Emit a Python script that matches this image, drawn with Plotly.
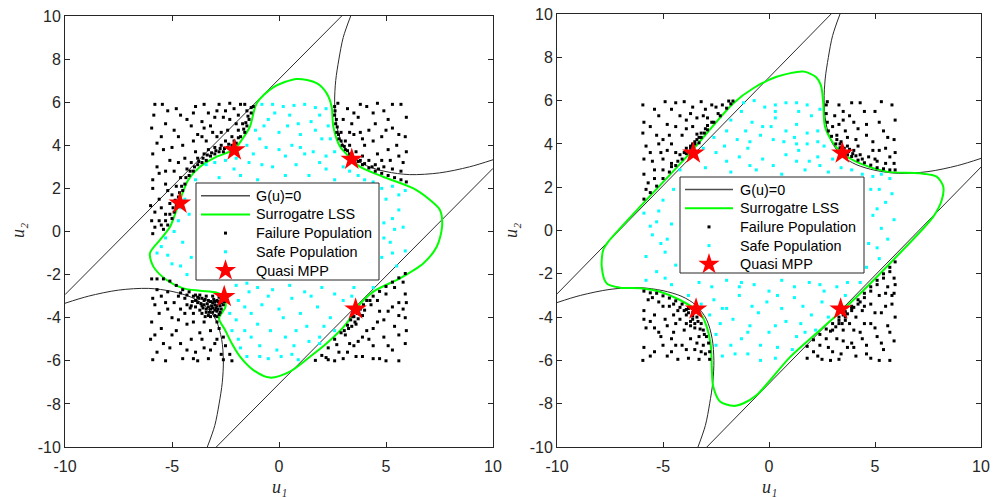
import plotly.graph_objects as go

# ---------------- data ----------------
# G(u)=0 (same limit state in both panels)
g_line_up_u = [-10.0, 2.93]
g_line_up_v = [-2.93, 10.0]
g_line_dn_u = [-2.93, 10.0]
g_line_dn_v = [-10.0, 2.93]
g_branch_ur_u = [3.35, 3.0, 2.8, 2.65, 2.6, 2.68, 2.95, 3.45, 4.1, 5.0, 6.1, 7.5, 8.9, 10.0]
g_branch_ur_v = [10.0, 9.0, 8.0, 7.0, 6.0, 5.0, 4.1, 3.45, 3.05, 2.78, 2.64, 2.72, 3.0, 3.33]
g_branch_ll_u = [-3.35, -3.0, -2.8, -2.65, -2.6, -2.68, -2.95, -3.45, -4.1, -5.0, -6.1, -7.5, -8.9, -10.0]
g_branch_ll_v = [-10.0, -9.0, -8.0, -7.0, -6.0, -5.0, -4.1, -3.45, -3.05, -2.78, -2.64, -2.72, -3.0, -3.33]

# Surrogate LSS, left panel
lss_left_u = [0.83, 1.76, 2.23, 2.46, 2.54, 2.85, 3.40, 3.79, 4.87, 6.28, 7.06, 7.52, 7.62, 7.37, 6.74, 5.65,
              4.41, 3.58, 3.16, 2.23, 1.45, 0.51, -0.42, -1.20, -1.82, -2.21, -2.52, -2.80, -2.50, -2.56,
              -2.91, -3.69, -4.47, -5.25, -5.87, -6.03, -5.56, -5.09, -4.63, -4.24, -3.69, -2.91, -2.10,
              -1.74, -1.36, -1.04, -0.27, 0.83]
lss_left_v = [7.08, 6.88, 6.41, 5.79, 4.86, 3.94, 3.35, 3.00, 2.54, 2.00, 1.46, 1.00, 0.22, -0.71, -1.48, -2.17,
              -2.79, -3.60, -4.26, -5.19, -5.81, -6.50, -6.78, -6.43, -5.81, -5.19, -4.57, -4.03, -3.50, -3.02,
              -2.84, -2.75, -2.64, -2.25, -1.63, -1.01, -0.39, 0.22, 1.46, 2.39, 3.00, 3.47, 3.80,
              4.25, 4.86, 5.95, 6.69, 7.08]
# Surrogate LSS, right panel
lss_right_u = [1.62, 2.20, 2.45, 2.56, 2.64, 3.03, 3.46, 4.29, 5.55, 7.12, 7.91, 8.22, 8.15, 7.75, 5.86, 3.98,
               2.41, 0.99, -0.58, -1.20, -1.68, -2.31, -2.63, -2.70, -2.74, -2.94, -3.25, -4.20, -5.14, -6.08,
               -7.03, -7.66, -7.89, -7.82, -7.58, -6.08, -3.88, -1.68, -0.74, 0.36, 1.62]
lss_right_v = [7.34, 7.10, 6.70, 5.88, 4.80, 4.03, 3.57, 3.10, 2.72, 2.64, 2.49, 2.02, 1.41, 0.64, -1.36, -3.21,
               -4.60, -5.85, -7.60, -7.98, -8.10, -7.90, -7.21, -6.29, -5.37, -4.44, -3.82, -3.21, -2.83, -2.67,
               -2.64, -2.44, -1.67, -0.90, -0.52, 1.10, 3.41, 5.88, 6.57, 7.10, 7.34]

# Quasi MPPs
mpp_left_u = [-2.09, 3.40, -4.63, -2.56, 3.58]
mpp_left_v = [3.78, 3.35, 1.31, -3.02, -3.60]
mpp_right_u = [-3.57, 3.46, -3.44, 3.38]
mpp_right_v = [3.57, 3.57, -3.63, -3.63]

# Failure population, left panel
fail_left = [
    (-1.2, 5.8), (-1.3, 5.5), (-1.4, 5.2), (-1.5, 4.9), (-1.6, 4.6), (-1.8, 4.4), (-2.0, 4.1), (-2.2, 4.0),
    (-2.4, 3.9), (-2.6, 3.7), (-2.8, 3.7), (-3.0, 3.6), (-3.2, 3.5), (-3.4, 3.3), (-3.6, 3.2), (-3.8, 3.1),
    (-4.0, 2.8), (-4.2, 2.6), (-4.4, 2.2), (-4.5, 1.9), (-4.7, 1.6), (-4.8, 1.2), (-4.9, 0.9), (-5.0, 0.6),
    (-5.2, 0.3), (-5.4, 0.1), (-1.5, 5.6), (-1.7, 5.0), (-1.9, 4.7), (-2.2, 4.4), (-2.5, 4.2), (-2.7, 4.0),
    (-3.0, 3.9), (-3.3, 3.8), (-3.5, 3.6), (-3.8, 3.4), (-4.1, 3.2), (-4.3, 2.9), (-4.6, 2.5), (-4.8, 2.1),
    (-5.0, 1.7), (-5.1, 1.3), (-5.3, 0.8), (-5.6, 0.5), (-5.8, 0.2), (-5.9, -0.1), (-2.0, 5.0), (-2.4, 4.7),
    (-2.9, 4.4), (-3.4, 4.2), (-3.9, 3.7), (-4.4, 3.4), (-4.9, 2.8), (-5.3, 2.2), (-5.6, 1.5), (-5.8, 0.9),
    (-2.6, 5.3), (-3.2, 4.9), (-3.8, 4.5), (-4.5, 4.0), (-5.1, 3.3), (-5.6, 2.7), (-5.9, 2.0), (-1.6, 5.9),
    (-2.1, 5.7), (-2.8, 5.9), (-3.3, 5.5), (-3.9, 5.8), (-4.3, 5.2), (-4.8, 5.7), (-5.3, 5.0), (-5.8, 5.9),
    (-5.5, 4.4), (-5.9, 3.6), (-4.9, 4.7), (-3.6, 5.1), (-2.5, 5.6), (-5.2, 5.6), (-5.7, 3.0), (-4.1, 4.9),
    (-3.0, 5.3), (-5.95, 4.8), (-6.0, 1.2),
    (-1.3, 5.75), (-1.45, 5.35), (-1.55, 5.05), (-1.65, 4.75), (-1.9, 4.35), (-2.1, 4.2), (-2.35, 4.05),
    (-2.55, 3.85), (-2.75, 3.85), (-2.95, 3.75), (-3.15, 3.65), (-3.35, 3.55), (-3.55, 3.4), (-3.75, 3.25),
    (-3.95, 3.0), (-4.15, 2.8), (-4.35, 2.5), (-4.55, 2.1), (-4.65, 1.8), (-4.85, 1.45), (-4.95, 1.1),
    (-5.1, 0.8), (-5.3, 0.5), (-5.5, 0.3),
    (-1.9, 5.4), (-2.3, 5.2), (-2.7, 4.6), (-3.1, 4.6), (-3.5, 4.8), (-4.0, 4.2), (-4.7, 4.4), (-5.0, 3.9),
    (-5.4, 3.8), (-5.7, 4.1), (-5.85, 5.4), (-5.45, 5.9), (-4.6, 5.4), (-4.0, 5.5), (-3.5, 5.9),
    (-2.3, 5.95), (-2.9, 5.6), (-1.8, 5.9), (-4.7, 3.2), (-5.3, 2.8), (-5.9, 2.4), (-5.5, 1.1),
    (-5.95, 0.5), (-5.2, 1.9), (-3.6, 4.4),
    (2.6, 5.8), (2.6, 5.4), (2.65, 5.0), (2.7, 4.6), (2.8, 4.3), (2.95, 4.0), (3.1, 3.8), (3.3, 3.6),
    (3.5, 3.4), (3.7, 3.25), (3.9, 3.1), (4.2, 2.95), (4.5, 2.8), (4.8, 2.7), (5.1, 2.6), (5.4, 2.5),
    (5.7, 2.4), (5.95, 2.3), (2.9, 4.6), (3.1, 4.2), (3.3, 4.0), (3.6, 3.7), (3.9, 3.5), (4.2, 3.3),
    (4.5, 3.1), (4.9, 3.0), (5.3, 2.9), (5.7, 2.8), (3.0, 5.2), (3.5, 4.5), (4.0, 4.0), (4.6, 3.6),
    (5.2, 3.3), (5.8, 3.2), (3.2, 5.7), (3.7, 5.3), (4.1, 5.8), (4.5, 5.0), (4.9, 5.6), (5.3, 4.8),
    (5.7, 5.9), (5.9, 4.4), (5.5, 4.0), (4.8, 4.4), (4.2, 4.7), (3.4, 5.0), (5.95, 5.3), (5.1, 3.8),
    (3.8, 5.9), (2.62, 5.6), (2.68, 5.2), (2.72, 4.85), (2.78, 4.5), (2.9, 4.2), (3.05, 3.95), (3.2, 3.75),
    (3.4, 3.55), (3.6, 3.4), (3.8, 3.3), (4.0, 3.15), (4.35, 3.0), (4.65, 2.9),
    (2.75, 5.95), (3.5, 5.5), (4.4, 5.5), (5.1, 5.2), (5.6, 4.5), (4.4, 4.2), (3.8, 4.6), (5.6, 3.5),
    (4.8, 3.3), (3.3, 4.6), (5.95, 3.7), (5.3, 5.9), (4.6, 5.95), (3.9, 4.3), (5.0, 4.7),
    (-2.6, -3.1), (-2.7, -3.3), (-2.8, -3.05), (-2.9, -3.2), (-3.0, -3.4), (-3.1, -3.0), (-2.7, -3.6),
    (-2.9, -3.7), (-3.2, -3.6), (-3.3, -3.2), (-3.4, -3.0), (-3.5, -3.4), (-3.6, -3.1), (-3.7, -2.95),
    (-3.0, -3.9), (-3.3, -3.9), (-2.6, -3.4), (-3.8, -3.3), (-4.0, -3.0), (-4.2, -2.8), (-2.8, -3.85),
    (-3.1, -3.3), (-3.4, -3.6), (-4.5, -2.7), (-4.8, -2.5), (-5.1, -2.3), (-5.4, -2.2), (-5.7, -2.2),
    (-5.95, -2.2), (-2.9, -4.2), (-2.8, -4.5), (-2.6, -4.9), (-2.5, -5.3), (-2.3, -5.7), (-2.2, -6.0),
    (-4.3, -3.4), (-4.7, -3.0), (-5.2, -2.8), (-5.7, -2.7), (-3.5, -4.2), (-4.0, -3.8), (-4.6, -3.6),
    (-5.3, -3.3), (-5.9, -3.1), (-3.2, -4.6), (-3.7, -4.7), (-4.3, -4.3), (-5.0, -4.0), (-5.6, -3.8),
    (-3.0, -5.2), (-3.5, -5.4), (-4.1, -5.0), (-4.8, -4.6), (-5.5, -4.5), (-5.95, -4.2), (-2.7, -5.7),
    (-3.3, -5.9), (-3.9, -5.6), (-4.5, -5.9), (-5.1, -5.4), (-5.7, -5.6), (-6.0, -5.0), (-4.6, -5.2),
    (-5.3, -6.0), (-5.9, -5.95), (-2.9, -5.0), (-3.8, -6.0),
    (-2.65, -3.2), (-2.75, -3.45), (-2.85, -3.25), (-2.95, -3.55), (-3.05, -3.15), (-3.15, -3.45),
    (-3.25, -3.75), (-3.35, -3.35), (-3.45, -3.15), (-3.55, -3.55), (-3.65, -3.35), (-3.75, -3.1),
    (-3.9, -3.5), (-4.05, -3.25), (-4.15, -3.55), (-2.85, -3.6), (-3.1, -3.75), (-3.6, -3.8),
    (-4.4, -3.1), (-4.6, -2.85), (-3.9, -2.95), (-4.3, -2.95),
    (-2.7, -3.15), (-2.8, -3.35), (-2.9, -3.45), (-3.0, -3.25), (-3.1, -3.55), (-3.2, -3.25), (-3.3, -3.5),
    (-3.4, -3.75), (-3.5, -3.2), (-3.6, -3.45), (-3.7, -3.65), (-3.8, -3.05), (-3.0, -3.65), (-2.75, -3.75),
    (-3.2, -3.95), (-3.45, -3.95), (-3.9, -3.2), (-4.1, -3.45), (-2.9, -3.95), (-2.55, -3.25),
    (-4.4, -3.8), (-4.9, -3.3), (-5.5, -3.0), (-5.8, -3.4), (-5.2, -3.6), (-4.7, -4.1), (-4.0, -4.2),
    (-3.6, -5.0), (-4.3, -5.5), (-5.0, -4.8), (-5.4, -5.2), (-5.8, -4.8), (-3.2, -5.5), (-2.6, -5.95),
    (-4.0, -5.9),
    (1.7, -5.98), (2.0, -5.75), (2.3, -5.4), (2.6, -5.0), (2.9, -4.7), (3.2, -4.35), (3.5, -3.95),
    (3.8, -3.6), (4.1, -3.2), (4.4, -3.0), (4.7, -2.78), (5.0, -2.55), (5.3, -2.35), (5.6, -2.15),
    (5.9, -1.95), (2.2, -5.85), (2.7, -5.25), (3.1, -4.8), (3.4, -4.4), (3.7, -4.05), (4.0, -3.65),
    (4.3, -3.4), (4.6, -3.2), (5.0, -2.9), (5.4, -2.6), (5.8, -2.35), (3.6, -4.3), (3.9, -3.9),
    (2.6, -6.0), (3.2, -5.6), (3.7, -5.1), (4.1, -4.6), (4.6, -4.2), (5.1, -3.7), (5.6, -3.3),
    (5.9, -2.9), (3.0, -5.9), (3.9, -5.8), (4.4, -5.3), (4.9, -4.9), (5.4, -4.4), (5.9, -4.0),
    (4.7, -5.9), (5.3, -5.5), (5.9, -5.2), (5.6, -6.0), (5.0, -6.0), (4.2, -5.0), (3.5, -5.3), (5.8, -3.6),
    (3.35, -4.1), (3.45, -3.95), (3.65, -3.8), (3.75, -3.55), (3.95, -3.4), (3.55, -4.2), (3.25, -4.5),
    (4.25, -3.2), (3.05, -4.6),
    (2.3, -5.95), (2.8, -5.6), (3.3, -5.2), (3.9, -4.9), (4.4, -4.5), (4.9, -4.1), (5.3, -3.5),
    (5.6, -3.9), (5.1, -5.3), (4.4, -5.9), (5.6, -4.8), (5.95, -4.6), (3.6, -5.8), (4.7, -3.7),
    (5.95, -3.3),
]

# Safe population, left panel
safe_left = [
    (-0.8, 5.9), (0.2, 5.8), (1.2, 5.9), (2.2, 5.7), (-0.5, 5.2), (0.5, 5.4), (1.5, 5.1), (2.3, 4.9),
    (-1.1, 4.7), (0.0, 4.6), (1.0, 4.5), (2.0, 4.3), (-1.5, 4.0), (-0.6, 3.9), (0.6, 4.0), (1.6, 3.7),
    (2.6, 3.7), (-3.4, 3.1), (-2.5, 3.3), (-1.4, 3.2), (-0.3, 3.0), (0.8, 3.1), (1.9, 3.2), (3.0, 3.0),
    (-3.9, 2.4), (-2.8, 2.5), (-1.8, 2.6), (2.6, 2.4), (3.7, 2.6), (4.4, 2.3), (5.3, 2.1), (5.9, 1.9),
    (-4.4, 1.5), (-4.7, 0.5), (-4.2, 0.8), (-5.3, -0.3), (-4.5, -0.5), (-5.7, -1.0), (-4.1, -1.2),
    (-5.0, -1.5), (-4.3, -2.0), (5.0, 1.5), (5.6, 1.0), (4.9, 0.4), (5.8, 0.2), (5.2, -0.5), (5.9, -0.9),
    (4.8, -1.2), (5.5, -1.6), (-2.0, -2.5), (-1.0, -2.6), (0.5, -2.5), (2.0, -2.6), (3.5, -2.6),
    (-1.9, -3.2), (-0.8, -3.4), (0.6, -3.1), (1.8, -3.5), (3.0, -3.2), (-2.0, -4.1), (-1.0, -4.3),
    (0.2, -4.0), (1.3, -4.4), (2.4, -4.0), (-1.9, -5.0), (-0.9, -5.3), (0.3, -4.9), (1.4, -5.1),
    (-1.5, -5.8), (-0.5, -5.9), (0.6, -5.7), (-2.2, -4.6), (-1.3, -3.8), (2.6, -4.6), (0.9, -5.95),
    (-0.2, 5.5), (0.9, 5.0), (1.9, 5.4), (-0.9, 4.3), (0.3, 3.5), (1.2, 3.6), (2.2, 3.5), (-2.1, 2.9),
    (-1.0, 2.4), (3.3, 2.8), (4.0, 2.4), (-4.6, 1.1), (5.3, 0.6), (-1.4, -2.8), (1.2, -2.8), (2.6, -2.9),
    (-0.4, -4.6), (0.8, -4.6), (-1.6, -4.6), (-0.1, -5.5), (1.9, -4.9), (-5.2, -1.1), (4.4, -2.6),
    (-0.3, 5.9), (0.7, 5.85), (1.7, 5.75), (-0.7, 4.9), (0.4, 4.9), (1.7, 4.7), (-1.2, 3.6), (0.0, 3.8),
    (1.0, 3.9), (2.4, 4.3), (-3.0, 3.2), (-2.0, 3.4), (-0.8, 3.1), (0.3, 2.6), (1.4, 2.6), (2.2, 2.9),
    (4.8, 2.0), (5.6, 1.7), (-4.9, 0.0), (-5.5, -0.7), (-4.6, -1.6), (4.9, -0.3), (5.4, 0.1), (5.3, -1.0),
    (-1.5, -2.4), (-0.3, -2.7), (1.5, -3.0), (3.4, -3.0), (-2.3, -3.8), (-1.6, -3.5), (0.0, -3.6),
    (1.0, -3.8), (2.1, -4.4), (-1.3, -4.9), (0.7, -5.3), (1.9, -5.2), (-0.9, -5.8), (0.1, -5.8),
    (-1.8, -5.4), (-0.5, -3.0),
]

# Failure population, right panel
fail_right = [
    (-5.9, 1.45), (-5.6, 1.75), (-5.3, 2.05), (-5.0, 2.4), (-4.7, 2.7), (-4.4, 3.0), (-4.1, 3.3),
    (-3.8, 3.65), (-3.5, 4.0), (-3.2, 4.3), (-2.9, 4.65), (-2.6, 5.0), (-2.3, 5.3), (-2.0, 5.65),
    (-1.8, 5.85), (-1.7, 5.98), (-5.8, 1.9), (-5.4, 2.4), (-5.0, 2.8), (-4.6, 3.1), (-4.2, 3.5),
    (-3.9, 3.8), (-3.6, 4.0), (-3.3, 4.3), (-3.0, 4.7), (-2.7, 5.0), (-2.4, 5.4), (-2.2, 5.8),
    (-3.7, 3.9), (-3.4, 4.2), (-5.9, 2.6), (-5.5, 3.2), (-5.1, 3.6), (-4.6, 4.0), (-4.1, 4.4),
    (-3.6, 4.8), (-3.1, 5.3), (-2.7, 5.8), (-5.8, 3.9), (-5.3, 4.4), (-4.8, 4.9), (-4.2, 5.3),
    (-3.6, 5.7), (-5.9, 5.0), (-5.4, 5.6), (-4.9, 5.95), (-4.4, 5.9), (-3.2, 5.95), (-5.0, 4.2),
    (-4.4, 3.6), (-5.95, 4.5), (-3.9, 5.1), (-3.3, 4.05), (-3.5, 4.1), (-3.7, 3.8), (-3.9, 3.55),
    (-4.0, 3.6), (-3.6, 3.95), (-3.2, 4.5), (-2.9, 4.85), (-4.3, 3.2), (-4.6, 2.95), (-3.4, 4.45),
    (-3.05, 4.5),
    (-1.9, 5.98), (-2.5, 5.7), (-3.0, 5.6), (-3.4, 5.2), (-3.9, 4.7), (-4.4, 4.8), (-4.7, 4.4),
    (-5.2, 4.0), (-5.6, 3.6), (-5.9, 3.3), (-5.7, 2.2), (-5.4, 2.8), (-5.0, 3.3), (-4.8, 3.7),
    (-5.6, 4.8), (-5.2, 5.3), (-4.6, 5.6), (-4.0, 5.95), (-3.7, 5.4), (-2.9, 5.2), (-5.95, 5.8),
    (2.7, 5.8), (2.7, 5.4), (2.75, 5.0), (2.8, 4.6), (2.95, 4.35), (3.15, 4.0), (3.35, 3.82),
    (3.5, 3.7), (3.7, 3.5), (3.9, 3.42), (4.2, 3.25), (4.5, 3.13), (4.8, 3.02), (5.1, 2.9),
    (5.4, 2.85), (5.7, 2.8), (5.95, 2.8), (3.0, 4.8), (3.2, 4.4), (3.4, 4.1), (3.7, 3.9), (4.0, 3.7),
    (4.3, 3.5), (4.7, 3.4), (5.1, 3.2), (5.5, 3.1), (5.9, 3.1), (3.1, 5.3), (3.6, 4.6), (4.1, 4.2),
    (3.3, 5.8), (3.8, 5.3), (4.3, 5.9), (4.6, 4.9), (5.0, 5.5), (5.4, 4.6), (5.8, 5.8), (5.9, 4.2),
    (5.5, 3.8), (4.9, 4.1), (4.2, 4.7), (3.5, 5.1), (5.95, 5.1), (5.2, 3.7), (3.9, 5.9),
    (3.55, 3.8), (3.75, 3.65), (3.6, 3.6), (3.95, 3.55), (3.35, 4.0), (3.45, 3.85), (4.1, 3.45),
    (3.8, 3.75), (4.4, 3.3), (3.2, 4.2),
    (2.75, 5.95), (3.5, 5.5), (4.0, 5.0), (4.5, 5.5), (5.2, 5.0), (5.6, 4.3), (4.6, 4.4), (3.3, 4.9),
    (5.7, 3.4), (4.9, 3.7), (5.95, 3.6), (5.3, 5.95), (4.2, 3.9), (5.0, 3.3), (3.7, 4.3),
    (-5.9, -2.8), (-5.6, -2.88), (-5.3, -2.9), (-5.0, -3.02), (-4.7, -3.12), (-4.4, -3.25),
    (-4.1, -3.4), (-3.8, -3.6), (-3.6, -3.8), (-3.4, -4.0), (-3.2, -4.3), (-3.1, -4.6), (-2.95, -4.9),
    (-2.85, -5.2), (-2.8, -5.6), (-2.8, -5.95), (-5.7, -3.2), (-5.2, -3.3), (-4.7, -3.5), (-4.3, -3.7),
    (-3.9, -3.9), (-3.7, -4.2), (-3.5, -4.5), (-3.3, -4.9), (-3.1, -5.3), (-3.0, -5.7), (-4.0, -3.7),
    (-3.6, -4.1), (-5.9, -3.7), (-5.4, -3.9), (-4.9, -4.1), (-4.4, -4.3), (-4.0, -4.6), (-3.7, -5.0),
    (-3.5, -5.5), (-5.8, -4.5), (-5.2, -4.7), (-4.6, -5.0), (-4.1, -5.3), (-3.8, -5.9), (-5.9, -5.4),
    (-5.4, -5.6), (-4.8, -5.8), (-4.3, -5.95), (-5.95, -6.0), (-5.0, -5.3), (-4.5, -4.7), (-5.6, -4.2),
    (-3.6, -3.95), (-3.8, -3.8), (-3.35, -4.2), (-3.5, -4.3), (-3.9, -3.65), (-3.25, -4.55),
    (-4.2, -3.55), (-3.7, -4.4), (-3.05, -4.8), (-4.5, -3.4),
    (-5.5, -3.1), (-5.0, -3.5), (-4.5, -3.9), (-4.8, -4.4), (-5.4, -4.5), (-5.9, -4.1), (-5.1, -4.9),
    (-4.4, -5.3), (-3.9, -5.5), (-3.3, -5.95), (-4.2, -4.1), (-3.9, -4.3), (-3.4, -5.2), (-5.6, -5.8),
    (-4.6, -5.6), (-3.2, -5.6),
    (1.8, -5.35), (2.1, -5.05), (2.4, -4.8), (2.7, -4.55), (3.0, -4.3), (3.3, -4.0), (3.6, -3.75),
    (3.9, -3.5), (4.2, -3.2), (4.5, -2.9), (4.8, -2.6), (5.1, -2.3), (5.4, -2.0), (5.7, -1.7),
    (5.95, -1.45), (1.8, -5.9), (2.1, -5.6), (2.4, -5.3), (2.7, -5.0), (3.0, -4.6), (3.3, -4.3),
    (3.6, -4.0), (3.9, -3.7), (4.2, -3.4), (4.5, -3.1), (4.8, -2.8), (5.1, -2.5), (5.4, -2.2),
    (5.7, -1.9), (2.3, -5.8), (2.8, -5.4), (3.2, -5.0), (3.5, -4.6), (3.8, -4.3), (4.1, -4.0),
    (4.4, -3.7), (4.8, -3.4), (5.2, -3.0), (5.6, -2.6), (5.9, -2.2), (2.9, -6.0), (3.4, -5.7),
    (3.9, -5.2), (4.3, -4.7), (4.8, -4.3), (5.3, -3.8), (5.8, -3.4), (3.3, -5.95), (4.1, -5.8),
    (4.6, -5.3), (5.1, -4.9), (5.6, -4.4), (5.95, -4.0), (4.8, -5.9), (5.4, -5.5), (5.9, -5.1),
    (5.7, -6.0), (5.2, -6.0), (4.4, -5.0), (3.7, -5.4), (5.9, -2.9),
    (3.5, -3.9), (3.3, -4.15), (3.7, -3.85), (3.9, -3.6), (3.45, -4.3), (4.0, -3.55), (3.15, -4.45),
    (3.6, -4.15), (4.3, -3.3), (2.9, -4.65),
    (2.5, -5.95), (3.0, -5.6), (3.5, -5.1), (4.0, -4.6), (4.5, -4.3), (5.0, -3.8), (5.5, -3.5),
    (5.8, -3.0), (4.0, -5.4), (4.6, -5.7), (5.3, -5.2), (5.7, -4.7), (5.0, -4.5), (4.5, -3.5),
    (5.95, -2.5), (5.5, -2.9),
]

# Safe population, right panel
safe_right = [
    (-1.2, 5.9), (-0.2, 5.7), (0.8, 5.9), (1.8, 5.8), (2.4, 5.6), (-1.8, 5.1), (-0.8, 5.0), (0.3, 5.2),
    (1.3, 4.9), (2.3, 4.6), (-2.6, 4.3), (-1.5, 4.2), (-0.4, 4.4), (0.7, 4.1), (1.8, 4.0), (2.6, 3.9),
    (-3.6, 3.5), (-2.5, 3.6), (-1.4, 3.4), (-0.3, 3.3), (0.8, 3.5), (1.9, 3.2), (3.0, 3.3), (-4.2, 2.8),
    (-3.0, 2.9), (-1.8, 2.7), (-0.6, 2.8), (0.6, 2.6), (1.7, 2.8), (2.8, 2.7), (3.9, 2.8), (4.9, 2.5),
    (5.7, 2.4), (-5.9, 0.8), (-5.5, -0.2), (-5.0, 1.4), (-4.6, 0.3), (-5.8, -1.2), (-4.9, -1.0),
    (-4.5, 1.9), (-5.3, -1.9), (-4.4, -1.6), (4.8, 1.9), (5.5, 1.3), (5.9, 0.5), (4.9, 0.7),
    (5.6, -0.4), (4.7, -0.6), (5.2, -1.3), (4.6, -1.7), (-5.8, -2.3), (-4.6, -2.5), (-3.3, -2.4),
    (-2.0, -2.3), (-0.7, -2.5), (0.6, -2.3), (1.9, -2.4), (3.2, -2.6), (4.3, -2.4), (-3.8, -3.0),
    (-2.6, -3.2), (-1.4, -3.0), (-0.1, -3.3), (1.2, -3.1), (2.5, -3.3), (3.6, -3.0), (-2.8, -3.9),
    (-1.7, -4.1), (-0.5, -3.8), (0.8, -4.2), (2.0, -3.9), (2.8, -4.0), (-2.5, -4.8), (-1.3, -5.0),
    (0.0, -4.7), (1.3, -4.9), (2.2, -4.6), (-2.2, -5.8), (-1.0, -5.7), (0.3, -5.9), (1.1, -5.5),
    (-1.8, -5.3), (0.3, 5.8), (1.4, 5.5), (-1.1, 4.6), (0.1, 4.8), (1.2, 4.3), (-2.1, 3.9), (-1.0, 3.8),
    (1.4, 3.7), (2.3, 3.4), (-5.3, 0.4), (5.2, 1.9), (5.3, 0.1), (-5.1, -0.6), (-1.4, -2.6),
    (2.6, -2.8), (0.6, -3.6), (-0.9, -4.4), (1.5, -4.3), (-0.4, -5.3), (-2.2, -3.6),
    (-0.7, 6.0), (0.3, 5.5), (1.3, 5.9), (2.0, 5.3), (-1.3, 5.5), (-0.3, 4.8), (0.8, 4.6), (1.8, 4.5),
    (-2.0, 4.6), (-0.9, 4.1), (0.2, 4.2), (1.3, 4.0), (2.3, 4.1), (-3.1, 3.8), (-2.0, 3.2), (-0.9, 3.0),
    (0.2, 3.0), (1.3, 3.2), (2.4, 3.0), (3.4, 2.9), (4.4, 2.6), (5.3, 2.6), (-5.6, 0.2), (-5.2, 0.9),
    (-4.8, -0.4), (5.1, 1.0), (5.8, 1.7), (5.1, -0.8), (-4.9, -2.2), (-2.7, -2.6), (-1.3, -2.4),
    (0.0, -2.8), (1.2, -2.6), (2.4, -2.5), (3.7, -2.4), (-3.2, -3.4), (-2.0, -3.6), (-0.8, -3.5),
    (0.4, -3.0), (1.6, -3.5), (-2.3, -4.3), (-1.0, -4.7), (0.3, -4.4), (1.7, -4.7), (-1.6, -5.7),
    (-0.4, -6.0), (0.4, -5.4), (-2.5, -5.3),
]

legend_names = ["G(u)=0", "Surrogatre LSS", "Failure Population", "Safe Population", "Quasi MPP"]
x_tick_vals = [-10, -5, 0, 5, 10]
x_tick_text = ["-10", "-5", "0", "5", "10"]
y_tick_vals = [-10, -8, -6, -4, -2, 0, 2, 4, 6, 8, 10]
y_tick_text = ["-10", "-8", "-6", "-4", "-2", "0", "2", "4", "6", "8", "10"]

# ---------------- styles / layout constants ----------------
W, H = 1002, 497
AX = "#262626"
GLINE = "#2b2b2b"
GREEN = "#00ff00"
CYAN = "#00ffff"
RED = "#ff0000"
FONT = "Arial, Liberation Sans, Helvetica, sans-serif"
SERIF = "Liberation Serif, Times New Roman, DejaVu Serif, serif"

# legend boxes in pixels: left, top, right, bottom, line x0, line x1, text x, first row y, row step
LEG = [
    dict(l=196, t=183, r=379, b=280, lx0=201, lx1=250, tx=254, y0=195.7, dy=18.7),
    dict(l=680, t=177, r=864, b=273, lx0=685, lx1=733, tx=738, y0=189.5, dy=18.7),
]

fig = go.Figure()


def add_panel(xa, ya, lss_u, lss_v, fail, safe, mpp_u, mpp_v):
    for gu, gv in [(g_line_up_u, g_line_up_v), (g_line_dn_u, g_line_dn_v),
                   (g_branch_ur_u, g_branch_ur_v), (g_branch_ll_u, g_branch_ll_v)]:
        fig.add_trace(go.Scatter(
            x=gu, y=gv, mode="lines", xaxis=xa, yaxis=ya, hoverinfo="skip",
            line=dict(color=GLINE, width=1, shape="spline", smoothing=0.9), name=legend_names[0]))
    fig.add_trace(go.Scatter(
        x=lss_u, y=lss_v, mode="lines", xaxis=xa, yaxis=ya,
        line=dict(color=GREEN, width=2, shape="spline", smoothing=0.8), name=legend_names[1]))
    fig.add_trace(go.Scatter(
        x=[p[0] for p in fail], y=[p[1] for p in fail], mode="markers", xaxis=xa, yaxis=ya,
        marker=dict(color="black", size=3, symbol="square", line=dict(width=0)), name=legend_names[2]))
    fig.add_trace(go.Scatter(
        x=[p[0] for p in safe], y=[p[1] for p in safe], mode="markers", xaxis=xa, yaxis=ya,
        marker=dict(color=CYAN, size=3, symbol="square", line=dict(width=0)), name=legend_names[3]))
    fig.add_trace(go.Scatter(
        x=mpp_u, y=mpp_v, mode="markers", xaxis=xa, yaxis=ya,
        marker=dict(color=RED, size=17, symbol="star", line=dict(width=0)), name=legend_names[4]))


add_panel("x", "y", lss_left_u, lss_left_v, fail_left, safe_left, mpp_left_u, mpp_left_v)
add_panel("x2", "y2", lss_right_u, lss_right_v, fail_right, safe_right, mpp_right_u, mpp_right_v)

# legend boxes drawn on a full-page pixel overlay (x3/y3)
annotations = []
for L in LEG:
    fig.add_trace(go.Scatter(
        x=[L["l"], L["r"], L["r"], L["l"], L["l"]], y=[L["t"], L["t"], L["b"], L["b"], L["t"]],
        mode="lines", fill="toself", fillcolor="white", line=dict(color=AX, width=1),
        xaxis="x3", yaxis="y3", hoverinfo="skip"))
    rows = [L["y0"] + i * L["dy"] for i in range(5)]
    mx = 0.5 * (L["lx0"] + L["lx1"])
    fig.add_trace(go.Scatter(x=[L["lx0"], L["lx1"]], y=[rows[0], rows[0]], mode="lines",
                             line=dict(color="#4d4d4d", width=1.5), xaxis="x3", yaxis="y3", hoverinfo="skip"))
    fig.add_trace(go.Scatter(x=[L["lx0"], L["lx1"]], y=[rows[1], rows[1]], mode="lines",
                             line=dict(color=GREEN, width=2), xaxis="x3", yaxis="y3", hoverinfo="skip"))
    fig.add_trace(go.Scatter(x=[mx], y=[rows[2]], mode="markers",
                             marker=dict(color="black", size=3, symbol="square"),
                             xaxis="x3", yaxis="y3", hoverinfo="skip"))
    fig.add_trace(go.Scatter(x=[mx], y=[rows[3]], mode="markers",
                             marker=dict(color=CYAN, size=3, symbol="square"),
                             xaxis="x3", yaxis="y3", hoverinfo="skip"))
    fig.add_trace(go.Scatter(x=[mx], y=[rows[4]], mode="markers",
                             marker=dict(color=RED, size=16, symbol="star"),
                             xaxis="x3", yaxis="y3", hoverinfo="skip"))
    for name, ry in zip(legend_names, rows):
        annotations.append(dict(
            text=name, x=L["tx"] / W, y=1 - ry / H, xref="paper", yref="paper",
            xanchor="left", yanchor="middle", showarrow=False,
            font=dict(family=FONT, size=14.4, color="black")))

# axis titles
for cx, cy, txt, ang in [(279, 487, "u₁", 0), (769, 487, "u₁", 0), (18, 231, "u₂", -90), (511, 231, "u₂", -90)]:
    annotations.append(dict(
        text=txt, x=cx / W, y=1 - cy / H, xref="paper", yref="paper", xanchor="center", yanchor="middle",
        showarrow=False, textangle=ang, font=dict(family=SERIF, size=18, color=AX, style="italic")))

axis_common = dict(
    range=[-10, 10], showgrid=False, zeroline=False, showline=True, linecolor=AX, linewidth=1,
    mirror="ticks", ticks="inside", ticklen=5, tickwidth=1, tickcolor=AX, automargin=False,
    tickfont=dict(family=FONT, size=16, color=AX), fixedrange=True,
)
xa_common = dict(tickvals=x_tick_vals, ticktext=x_tick_text, ticklabelstandoff=5, **axis_common)
ya_common = dict(tickvals=y_tick_vals, ticktext=y_tick_text, ticklabelstandoff=0, **axis_common)

fig.update_layout(
    width=W, height=H,
    margin=dict(l=0, r=0, t=0, b=0),
    paper_bgcolor="white", plot_bgcolor="rgba(0,0,0,0)",
    showlegend=False,
    xaxis=dict(domain=[65 / W, 493 / W], anchor="y", **xa_common),
    yaxis=dict(domain=[1 - 447 / H, 1 - 16 / H], anchor="x", **ya_common),
    xaxis2=dict(domain=[557 / W, 981 / W], anchor="y2", **xa_common),
    yaxis2=dict(domain=[1 - 447 / H, 1 - 14 / H], anchor="x2", **ya_common),
    xaxis3=dict(domain=[0, 1], range=[0, W], visible=False, anchor="y3", fixedrange=True),
    yaxis3=dict(domain=[0, 1], range=[H, 0], visible=False, anchor="x3", fixedrange=True),
    annotations=annotations,
)

fig.write_html("out.html")
